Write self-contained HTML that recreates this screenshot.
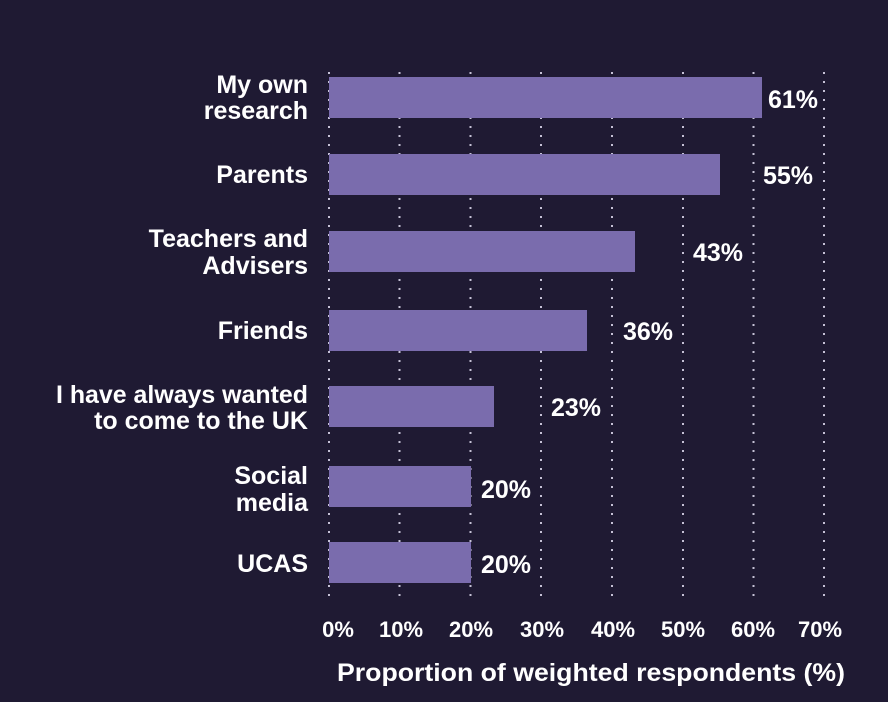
<!DOCTYPE html>
<html><head><meta charset="utf-8"><style>
html,body{margin:0;padding:0;background:#1f1a33;}
svg{display:block;}
text{font-family:"Liberation Sans",sans-serif;font-weight:bold;fill:#fff;}
</style></head><body>
<svg width="888" height="702" viewBox="0 0 888 702">
<rect width="888" height="702" fill="#1f1a33"/>
<g stroke="#d8d4e8" stroke-width="2" stroke-dasharray="2 7" opacity="0.9">
<line x1="329" y1="72" x2="329" y2="602"/>
<line x1="399.5" y1="72" x2="399.5" y2="602"/>
<line x1="470.5" y1="72" x2="470.5" y2="602"/>
<line x1="541" y1="72" x2="541" y2="602"/>
<line x1="612" y1="72" x2="612" y2="602"/>
<line x1="683" y1="72" x2="683" y2="602"/>
<line x1="753.5" y1="72" x2="753.5" y2="602"/>
<line x1="824" y1="72" x2="824" y2="602"/>
</g>
<g fill="#7a6cad">
<rect x="329" y="77" width="433" height="41"/>
<rect x="329" y="154" width="391" height="41"/>
<rect x="329" y="231" width="306" height="41"/>
<rect x="329" y="310" width="258" height="41"/>
<rect x="329" y="386" width="165" height="41"/>
<rect x="329" y="466" width="142" height="41"/>
<rect x="329" y="542" width="142" height="41"/>
</g>
<g font-size="25" text-anchor="end">
<text x="308" y="93">My own</text>
<text x="308" y="119">research</text>
<text x="308" y="183">Parents</text>
<text x="308" y="247">Teachers and</text>
<text x="308" y="274">Advisers</text>
<text x="308" y="339">Friends</text>
<text x="308" y="403" textLength="252" lengthAdjust="spacingAndGlyphs">I have always wanted</text>
<text x="308" y="429">to come to the UK</text>
<text x="308" y="484">Social</text>
<text x="308" y="511">media</text>
<text x="308" y="572">UCAS</text>
</g>
<g font-size="25">
<text x="768" y="108">61%</text>
<text x="763" y="184">55%</text>
<text x="693" y="261">43%</text>
<text x="623" y="340">36%</text>
<text x="551" y="416">23%</text>
<text x="481" y="498">20%</text>
<text x="481" y="573">20%</text>
</g>
<g font-size="22" text-anchor="middle">
<text x="338" y="637">0%</text>
<text x="401" y="637">10%</text>
<text x="471" y="637">20%</text>
<text x="542" y="637">30%</text>
<text x="613" y="637">40%</text>
<text x="683" y="637">50%</text>
<text x="753" y="637">60%</text>
<text x="820" y="637">70%</text>
</g>
<text x="337" y="681" font-size="25" textLength="508" lengthAdjust="spacingAndGlyphs">Proportion of weighted respondents (%)</text>
</svg>
</body></html>
